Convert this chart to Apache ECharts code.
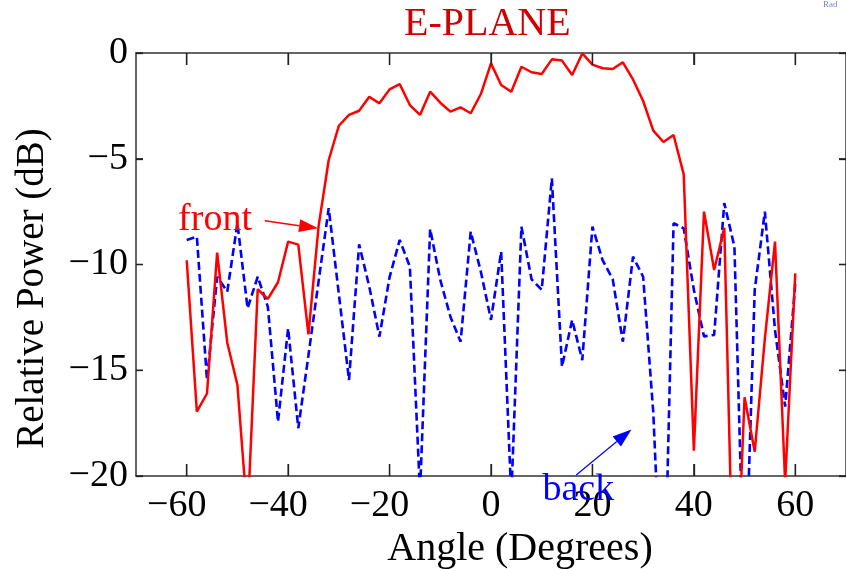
<!DOCTYPE html>
<html>
<head>
<meta charset="utf-8">
<script src="https://cdn.jsdelivr.net/npm/echarts@6/dist/echarts.min.js"></script>
<style>html,body{margin:0;padding:0;background:#fff;}#chart{width:846px;height:569px;}</style>
</head>
<body>
<div id="chart"></div>
<script>
const angles = [-60,-58,-56,-54,-52,-50,-48,-46,-44,-42,-40,-38,-36,-34,-32,-30,-28,-26,-24,-22,-20,-18,-16,-14,-12,-10,-8,-6,-4,-2,0,2,4,6,8,10,12,14,16,18,20,22,24,26,28,30,32,34,36,38,40,42,44,46,48,50,52,54,56,58,60];
const front = [-9.8,-16.96,-16.1,-9.44,-13.7,-15.7,-22,-11.17,-11.63,-10.84,-8.92,-9.06,-13.3,-8.2,-5.06,-3.44,-2.93,-2.73,-2.07,-2.38,-1.72,-1.47,-2.46,-2.93,-1.83,-2.35,-2.77,-2.57,-2.85,-1.94,-0.49,-1.51,-1.83,-0.65,-0.91,-0.99,-0.30,-0.36,-1.04,-0.02,-0.55,-0.72,-0.76,-0.44,-1.25,-2.27,-3.67,-4.21,-3.88,-5.74,-18.8,-7.5,-10.26,-8.26,-28,-16.28,-18.85,-13.5,-8.92,-20.3,-10.42];
const back = [-8.84,-8.68,-15.46,-10.58,-11.28,-8.05,-12.07,-10.58,-12.0,-17.43,-13.02,-17.74,-14.3,-10.8,-7.34,-11.4,-15.46,-9.05,-11.05,-13.41,-10.6,-8.84,-10.1,-20.8,-8.32,-10.73,-12.47,-13.65,-8.45,-10.34,-12.62,-9.39,-21,-8.21,-10.7,-11.2,-5.93,-14.83,-12.62,-14.52,-8.21,-9.79,-10.7,-13.65,-9.63,-10.58,-17.0,-28,-8.05,-8.29,-11.2,-13.4,-13.33,-7.1,-9.16,-26.5,-11.2,-7.5,-13.1,-16.72,-10.9];
const xTicks = [-60,-40,-20,0,20,40,60];
const yTicks = [0,-5,-10,-15,-20];
const titleText = 'E-PLANE';
const xName = 'Angle (Degrees)';
const yName = 'Relative Power (dB)';
const frontLabel = {text:'front', at:[-61.7,-7.92]};
const frontArrow = [[-44.6,-7.93],[-34.1,-8.29]];
const backLabel = {text:'back', at:[10.14,-20.64]};
const backArrow = [[16.8,-19.95],[27.7,-17.8]];

const FONT = '"Liberation Serif","Times New Roman",serif';
const AX = '#333';
const minus = v => String(v).replace('-', '\u2212');
const xFmt = v => v < 0 ? '{n|' + minus(v) + '}' : '{p|' + v + '}';

function tick(len, vals){
  return {show:true, inside:true, length:len, customValues:vals, lineStyle:{color:'#222', width:1.3}};
}
function line(){ return {show:true, onZero:false, lineStyle:{color:AX, width:1.5}}; }

const chart = echarts.init(document.getElementById('chart'), null, {renderer:'canvas'});
chart.setOption({
  animation:false,
  backgroundColor:'#fff',
  title:{text:titleText, left:399, top:-1, textStyle:{fontFamily:FONT, fontSize:40, fontWeight:'normal', color:'#d00000'}},
  grid:{left:136, right:0, top:53, bottom:93, outerBoundsMode:'none'},
  xAxis:[{
    type:'value', min:-70, max:70, position:'bottom',
    name:xName, nameLocation:'middle', nameGap:52,
    nameTextStyle:{fontFamily:FONT, fontSize:40, color:'#000', padding:[0,0,0,58]},
    axisLine:line(),
    axisTick:tick(12, xTicks),
    axisLabel:{customValues:xTicks, formatter:xFmt, margin:11,
      rich:{
        n:{fontFamily:FONT, fontSize:38, color:'#000', padding:[0,20,0,0]},
        p:{fontFamily:FONT, fontSize:38, color:'#000'}
      }},
    splitLine:{show:false}
  },{
    type:'value', min:-70, max:70, position:'top',
    axisLine:line(),
    axisTick:tick(12, xTicks),
    axisLabel:{show:false}, splitLine:{show:false}
  }],
  yAxis:[{
    type:'value', min:-20, max:0, interval:5, position:'left',
    name:yName, nameLocation:'middle', nameGap:84, nameRotate:90,
    nameTextStyle:{fontFamily:FONT, fontSize:39, color:'#000', padding:[0,48,0,0]},
    axisLine:line(),
    axisTick:tick(7, yTicks),
    axisLabel:{customValues:yTicks, formatter:minus, fontFamily:FONT, fontSize:38, color:'#000', margin:8},
    splitLine:{show:false}
  },{
    type:'value', min:-20, max:0, interval:5, position:'right',
    axisLine:line(),
    axisTick:tick(7, yTicks),
    axisLabel:{show:false}, splitLine:{show:false}
  }],
  series:[{
    name:'back', type:'line', xAxisIndex:0, yAxisIndex:0,
    data: angles.map((a,i)=>[a, back[i]]),
    showSymbol:false, clip:true,
    lineStyle:{color:'#0000ff', width:2.6, type:[8,4]}
  },{
    name:'front', type:'line', xAxisIndex:0, yAxisIndex:0,
    data: angles.map((a,i)=>[a, front[i]]),
    showSymbol:false, clip:true,
    lineStyle:{color:'#ff0000', width:2.5}
  }]
});

function px(pt){ return chart.convertToPixel({gridIndex:0}, pt); }
function arrow(p0, p1, color, w, L, W){
  const a = px(p0), b = px(p1);
  const dx = b[0]-a[0], dy = b[1]-a[1], len = Math.hypot(dx,dy);
  const ux = dx/len, uy = dy/len;
  const bx = b[0]-ux*L, by = b[1]-uy*L;
  const nx = -uy, ny = ux;
  return [
    {type:'line', shape:{x1:a[0], y1:a[1], x2:bx, y2:by}, style:{stroke:color, lineWidth:w}, z:100},
    {type:'polygon', shape:{points:[[b[0],b[1]],[bx+nx*W,by+ny*W],[bx-nx*W,by-ny*W]]}, style:{fill:color}, z:100}
  ];
}
// tick marks on all four sides of the box, placed through the axis scales
const tickEls = [];
const tk = {stroke:'#222', lineWidth:1.3};
xTicks.forEach(v => {
  const b = px([v, -20]), t = px([v, 0]);
  tickEls.push({type:'line', shape:{x1:b[0], y1:b[1], x2:b[0], y2:b[1]-12}, style:tk, z:50});
  tickEls.push({type:'line', shape:{x1:t[0], y1:t[1], x2:t[0], y2:t[1]+12}, style:tk, z:50});
});
yTicks.forEach(v => {
  const l = px([-70, v]), r = px([70, v]);
  tickEls.push({type:'line', shape:{x1:l[0], y1:l[1], x2:l[0]+7, y2:l[1]}, style:tk, z:50});
  tickEls.push({type:'line', shape:{x1:r[0], y1:r[1], x2:r[0]-7, y2:r[1]}, style:tk, z:50});
});
const fp = px(frontLabel.at), bp = px(backLabel.at);
chart.setOption({
  graphic:[
    ...tickEls,
    {type:'text', x:fp[0], y:fp[1], style:{text:frontLabel.text, fill:'#ff0000', font:'38px '+FONT, verticalAlign:'middle', align:'left'}, z:100},
    {type:'text', x:bp[0], y:bp[1], style:{text:backLabel.text, fill:'#0000ff', font:'38px '+FONT, verticalAlign:'middle', align:'left'}, z:100},
    ...arrow(frontArrow[0], frontArrow[1], '#ff0000', 1.5, 19, 6.5),
    ...arrow(backArrow[0], backArrow[1], '#0000ff', 1.2, 19, 6.5),
    {type:'text', x:823, y:0, style:{text:'Rad', fill:'#4444cc', font:'9px '+FONT, opacity:0.7}, z:100}
  ]
});
</script>
</body>
</html>
